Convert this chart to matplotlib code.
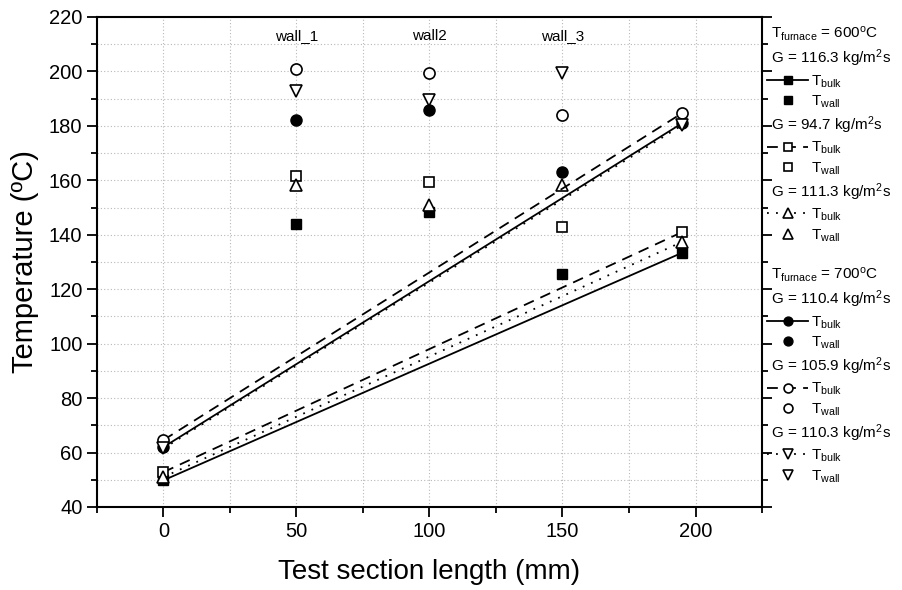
import matplotlib
matplotlib.use('Agg')
import matplotlib.pyplot as plt
from matplotlib.lines import Line2D
from matplotlib.ticker import MultipleLocator

plt.rcParams['font.family'] = ['Liberation Sans', 'DejaVu Sans']
plt.rcParams['mathtext.fontset'] = 'custom'
plt.rcParams['mathtext.rm'] = 'Liberation Sans'
plt.rcParams['mathtext.it'] = 'Liberation Sans:italic'
plt.rcParams['mathtext.bf'] = 'Liberation Sans:bold'

# bulk temperature lines (inlet / outlet)
x_bulk = [0, 195]
bulk_600_116 = [49.8, 133.4]
bulk_600_947 = [52.8, 141.0]
bulk_600_113 = [51.0, 137.4]
bulk_700_110 = [62.0, 181.0]
bulk_700_1059 = [64.6, 184.7]
bulk_700_1103 = [61.5, 180.3]

# wall temperatures
x_wall = [50, 100, 150]
wall_600_116 = [143.8, 148.5, 125.7]
wall_600_947 = [161.6, 159.5, 143.0]
wall_600_113 = [158.3, 150.9, 158.3]
wall_700_110 = [182.3, 185.8, 163.2]
wall_700_1059 = [200.9, 199.5, 184.1]
wall_700_1103 = [192.7, 189.6, 199.4]

wall_names = ['wall_1', 'wall2', 'wall_3']

fig = plt.figure(figsize=(9.02, 5.9), dpi=100)
ax = fig.add_axes([0.1075, 0.1407, 0.7373, 0.8305])

lw = 1.3
ms = 7
dash = (0, (6, 4))
dot = (0, (1, 4))

b1, = ax.plot(x_bulk, bulk_600_116, color='k', lw=lw, ls='-', marker='s', ms=ms, mfc='k', mec='k')
w1, = ax.plot(x_wall, wall_600_116, ls='none', marker='s', ms=ms, mfc='k', mec='k')
b2, = ax.plot(x_bulk, bulk_600_947, color='k', lw=lw, ls=dash, marker='s', ms=ms, mfc='white', mec='k', mew=1.2)
w2, = ax.plot(x_wall, wall_600_947, ls='none', marker='s', ms=ms, mfc='white', mec='k', mew=1.2)
b3, = ax.plot(x_bulk, bulk_600_113, color='k', lw=lw, ls=dot, marker='^', ms=ms + 1.5, mfc='white', mec='k', mew=1.2)
w3, = ax.plot(x_wall, wall_600_113, ls='none', marker='^', ms=ms + 1.5, mfc='white', mec='k', mew=1.2)

b4, = ax.plot(x_bulk, bulk_700_110, color='k', lw=lw, ls='-', marker='o', ms=ms + 1, mfc='k', mec='k')
w4, = ax.plot(x_wall, wall_700_110, ls='none', marker='o', ms=ms + 1, mfc='k', mec='k')
b5, = ax.plot(x_bulk, bulk_700_1059, color='k', lw=lw, ls=dash, marker='o', ms=ms + 1, mfc='white', mec='k', mew=1.2)
w5, = ax.plot(x_wall, wall_700_1059, ls='none', marker='o', ms=ms + 1, mfc='white', mec='k', mew=1.2)
b6, = ax.plot(x_bulk, bulk_700_1103, color='k', lw=lw, ls=dot, marker='v', ms=ms + 1.5, mfc='white', mec='k', mew=1.2)
w6, = ax.plot(x_wall, wall_700_1103, ls='none', marker='v', ms=ms + 1.5, mfc='white', mec='k', mew=1.2)

for xw, name in zip(x_wall, wall_names):
    ax.text(xw, 213, name, ha='center', va='center', fontsize=11)

ax.set_xlim(-25, 225)
ax.set_ylim(40, 220)
ax.xaxis.set_major_locator(MultipleLocator(50))
ax.xaxis.set_minor_locator(MultipleLocator(25))
ax.yaxis.set_major_locator(MultipleLocator(20))
ax.yaxis.set_minor_locator(MultipleLocator(10))
ax.tick_params(which='both', direction='out', right=True, labelsize=14.5, width=1.3)
ax.tick_params(which='major', length=7)
ax.tick_params(which='minor', length=4)
ax.tick_params(axis='y', which='both', right=True)
for s in ax.spines.values():
    s.set_linewidth(1.5)
ax.grid(True, which='both', ls=(0, (1, 2)), color='#b8b8b8', lw=0.8)
ax.set_axisbelow(True)

ax.set_xlabel('Test section length (mm)', fontsize=20, labelpad=13)
ax.set_ylabel('Temperature (ºC)', fontsize=21, labelpad=7)

blank = Line2D([], [], ls='none')
tb = r'T$_{\rm bulk}$'
tw = r'T$_{\rm wall}$'
handles = [blank, blank, b1, w1, blank, b2, w2, blank, b3, w3, blank,
           blank, blank, b4, w4, blank, b5, w5, blank, b6, w6]
labels = [r'T$_{\rm furnace}$ = 600$^{\rm o}$C', r'G = 116.3 kg/m$^{\rm 2}$s', tb, tw,
          r'G = 94.7 kg/m$^{\rm 2}$s', tb, tw,
          r'G = 111.3 kg/m$^{\rm 2}$s', tb, tw, ' ',
          r'T$_{\rm furnace}$ = 700$^{\rm o}$C', r'G = 110.4 kg/m$^{\rm 2}$s', tb, tw,
          r'G = 105.9 kg/m$^{\rm 2}$s', tb, tw,
          r'G = 110.3 kg/m$^{\rm 2}$s', tb, tw]
leg = ax.legend(handles, labels, loc='upper left', bbox_to_anchor=(1.003, 0.99),
                frameon=False, fontsize=11, handlelength=2.7, handletextpad=0.2,
                labelspacing=0.27, borderaxespad=0.0, borderpad=0.2, markerscale=0.8)
for h, t in zip(handles, leg.get_texts()):
    if h is blank:
        t.set_x(-40)

fig.savefig('out.png', dpi=100)
